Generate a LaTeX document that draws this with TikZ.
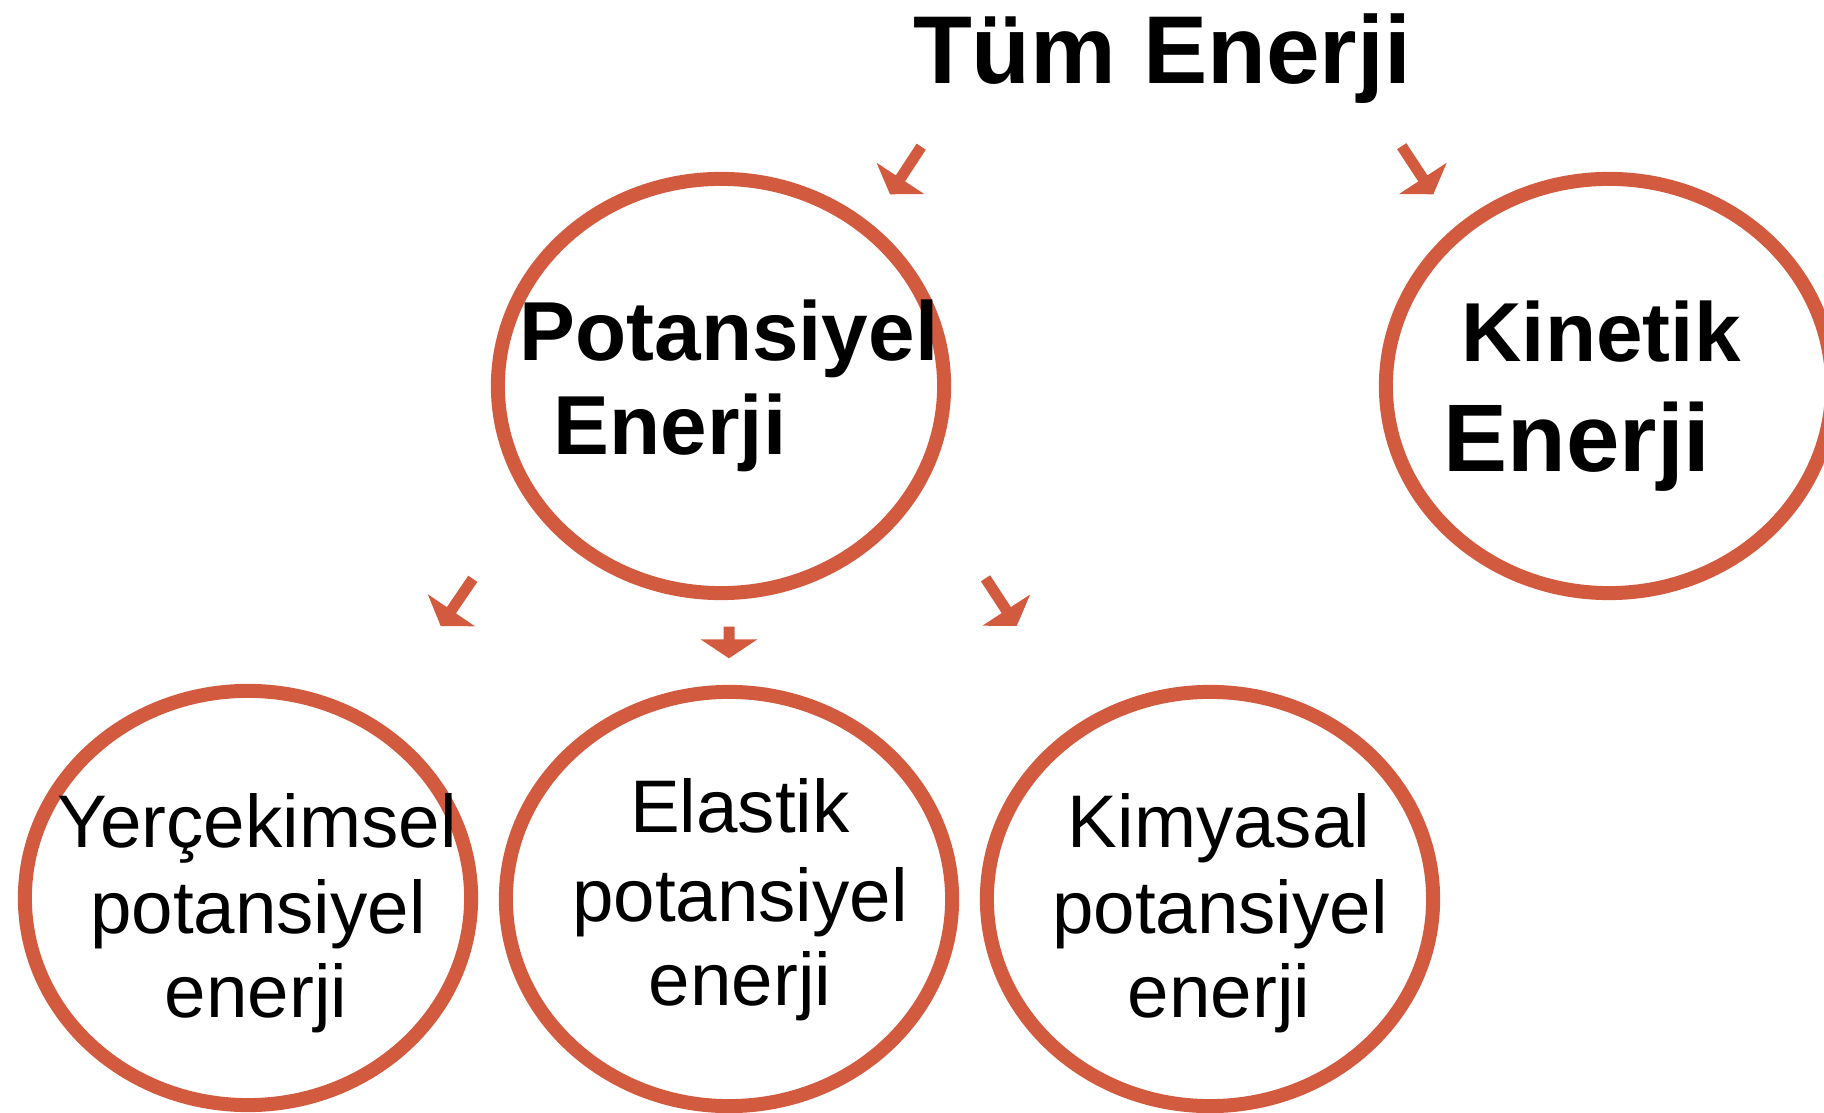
\documentclass[tikz,border=0pt]{standalone}
\usepackage{fontspec}
\setmainfont{Liberation Sans}
\usetikzlibrary{calc,shapes.geometric}
\definecolor{ringcol}{RGB}{210,90,63}

% block arrow from tail coordinate #1 to tip coordinate #2
\newcommand\blockarrow[2]{%
  \coordinate (#1h) at ($(#2)!0.19cm!(#1)$);
  \fill[ringcol] ($(#1)!0.055cm!90:(#2)$) -- ($(#1h)!0.055cm!90:(#2)$)
    -- ($(#1h)!0.285cm!90:(#2)$) -- (#2) -- ($(#1h)!0.285cm!-90:(#2)$)
    -- ($(#1h)!0.055cm!-90:(#2)$) -- ($(#1)!0.055cm!-90:(#2)$) -- cycle;
}

\begin{document}
\begin{tikzpicture}[x=0.01cm, y=-0.01cm,
  ring/.style={draw=ringcol, line width=0.14cm, ellipse, inner sep=0pt,
    minimum width=4.46cm, minimum height=4.14cm},
  txt/.style={anchor=base, inner sep=0pt},
  title/.style={txt, font=\bfseries\fontsize{27.4pt}{30pt}\selectfont},
  mainlbl/.style={txt, font=\bfseries\fontsize{23.8pt}{26pt}\selectfont},
  biglbl/.style={txt, font=\bfseries\fontsize{27.3pt}{30pt}\selectfont},
  sublbl/.style={txt, font=\fontsize{21.2pt}{24pt}\selectfont}]
  \useasboundingbox (0,0) rectangle (1824,1113);
  \clip (0,0) rectangle (1824,1113);

  % rings
  \node[ring] (pot) at (721,386) {};
  \node[ring] (kin) at (1609,386) {};
  \node[ring] (yer) at (248,898) {};
  \node[ring] (ela) at (729,899) {};
  \node[ring] (kim) at (1210,899) {};

  % title
  \node[title] (tum) at (1162,84) {Tüm Enerji};

  % labels of the upper rings
  \node[mainlbl] (pot1) at (729,361) {Potansiyel};
  \node[mainlbl] (pot2) at (670,455) {Enerji};
  \node[mainlbl] (kin1) at (1601,362) {Kinetik};
  \node[biglbl]  (kin2) at (1577,472) {Enerji};

  % labels of the lower rings
  \node[sublbl] (yer1) at (257,847) {Yerçekimsel};
  \node[sublbl] (yer2) at (258,933) {potansiyel};
  \node[sublbl] (yer3) at (256,1017) {enerji};
  \node[sublbl] (ela1) at (740,832) {Elastik};
  \node[sublbl] (ela2) at (740,921) {potansiyel};
  \node[sublbl] (ela3) at (740,1005) {enerji};
  \node[sublbl] (kim1) at (1219,847) {Kimyasal};
  \node[sublbl] (kim2) at (1220,933) {potansiyel};
  \node[sublbl] (kim3) at (1219,1017) {enerji};

  % arrows: tail and tip points
  \coordinate (a1) at (921.2,146.7);  \coordinate (a1t) at (890,194.3);
  \coordinate (a2) at (1401.7,146.2); \coordinate (a2t) at (1433.3,194.3);
  \coordinate (a3) at (472.8,578.8);  \coordinate (a3t) at (440.7,626);
  \coordinate (a4) at (729,626.7);    \coordinate (a4t) at (729,658.3);
  \coordinate (a5) at (985.5,578.3);  \coordinate (a5t) at (1016.7,626);
  \blockarrow{a1}{a1t}
  \blockarrow{a2}{a2t}
  \blockarrow{a3}{a3t}
  \blockarrow{a4}{a4t}
  \blockarrow{a5}{a5t}
\end{tikzpicture}
\end{document}
